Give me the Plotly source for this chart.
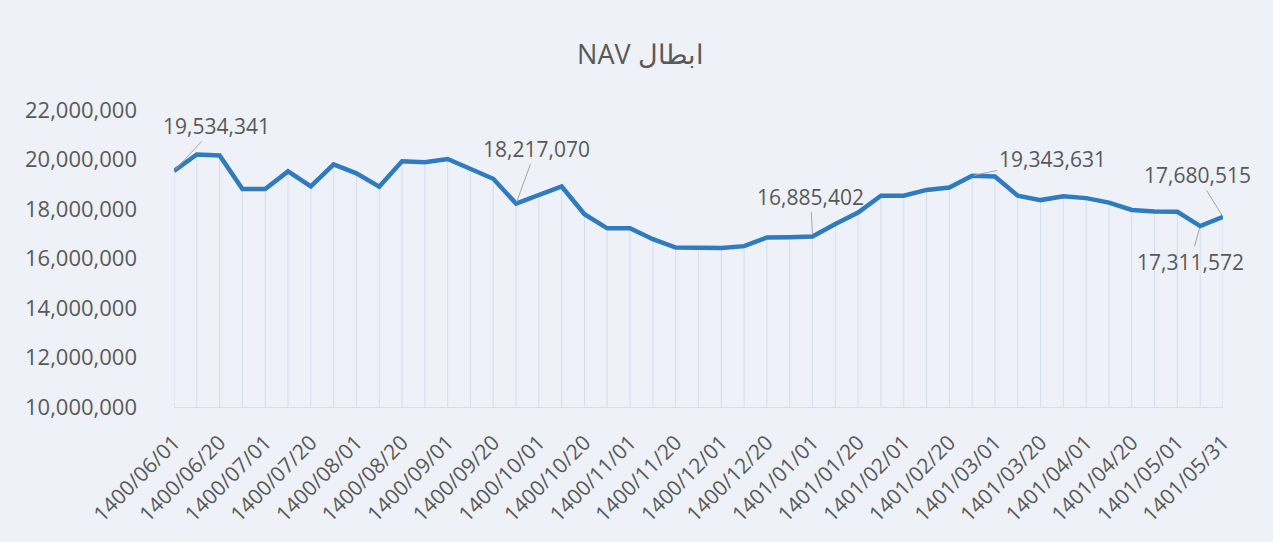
import plotly.graph_objects as go

dates = [
    "1400/06/01", "1400/06/10", "1400/06/20", "1400/06/31",
    "1400/07/01", "1400/07/10", "1400/07/20", "1400/07/30",
    "1400/08/01", "1400/08/10", "1400/08/20", "1400/08/30",
    "1400/09/01", "1400/09/10", "1400/09/20", "1400/09/30",
    "1400/10/01", "1400/10/10", "1400/10/20", "1400/10/30",
    "1400/11/01", "1400/11/10", "1400/11/20", "1400/11/30",
    "1400/12/01", "1400/12/10", "1400/12/20", "1400/12/29",
    "1401/01/01", "1401/01/10", "1401/01/20", "1401/01/31",
    "1401/02/01", "1401/02/10", "1401/02/20", "1401/02/31",
    "1401/03/01", "1401/03/10", "1401/03/20", "1401/03/31",
    "1401/04/01", "1401/04/10", "1401/04/20", "1401/04/31",
    "1401/05/01", "1401/05/20", "1401/05/31",
]

nav = [
    19534341, 20200000, 20160000, 18810000,
    18810000, 19520000, 18910000, 19800000,
    19440000, 18900000, 19930000, 19890000,
    20020000, 19620000, 19220000, 18217070,
    18580000, 18910000, 17790000, 17220000,
    17220000, 16780000, 16440000, 16410000,
    16420000, 16500000, 16850000, 16860000,
    16885402, 17390000, 17860000, 18540000,
    18540000, 18770000, 18870000, 19343631,
    19310000, 18540000, 18360000, 18510000,
    18440000, 18260000, 17960000, 17900000,
    17890000, 17311572, 17680515,
]

labelled = [0, 15, 28, 35, 46, 45]
label_offsets = {0: (42, -45), 15: (20, -55), 28: (-2, -40), 35: (80, -17), 46: (-26, -42), 45: (-10, 36)}

y_min, y_max = 10000000, 22000000
tick_vals_y = [10000000, 12000000, 14000000, 16000000, 18000000, 20000000, 22000000]

bg = "#eef1f8"
txt = "#595959"
font_family = "Open Sans, Noto Sans, sans-serif"

fig = go.Figure()

fig.add_trace(go.Scatter(
    x=dates, y=nav, mode="lines",
    line=dict(color="#2e7bc0", width=4.5),
    error_y=dict(type="data", symmetric=False,
                 array=[0] * len(nav),
                 arrayminus=[v - y_min for v in nav],
                 color="#d5ddee", thickness=1, width=0),
    hoverinfo="x+y",
    showlegend=False,
))

annotations = []
for i in labelled:
    ax, ay = label_offsets[i]
    annotations.append(dict(
        x=dates[i], y=nav[i], xref="x", yref="y",
        text=f"{nav[i]:,}", showarrow=True, arrowhead=0,
        arrowwidth=1, arrowcolor="#a6a6a6", ax=ax, ay=ay,
        standoff=2,
        font=dict(family=font_family, size=21, color=txt),
    ))

fig.update_layout(
    width=1273, height=542,
    paper_bgcolor=bg, plot_bgcolor=bg,
    margin=dict(l=174, r=50, t=110, b=135),
    title=dict(text="NAV ابطال", x=0.503, xanchor="center", y=0.9, yanchor="middle",
               font=dict(family=font_family, size=27, color=txt)),
    font=dict(family=font_family, color=txt),
    annotations=annotations,
    xaxis=dict(
        type="category", range=[0, len(dates) - 1],
        tickmode="array", tickvals=dates[::2], ticktext=dates[::2],
        tickangle=-45, tickfont=dict(size=21, color=txt),
        showgrid=False, showline=True, linecolor="#d5ddee", linewidth=1,
        ticks="", zeroline=False, ticklabelstandoff=14,
    ),
    yaxis=dict(
        range=[y_min, y_max], tickvals=tick_vals_y,
        tickformat=",d", tickfont=dict(size=22, color=txt),
        showgrid=False, zeroline=False, showline=False, ticks="",
        ticklabelstandoff=36,
    ),
)

fig.write_html("out.html")
